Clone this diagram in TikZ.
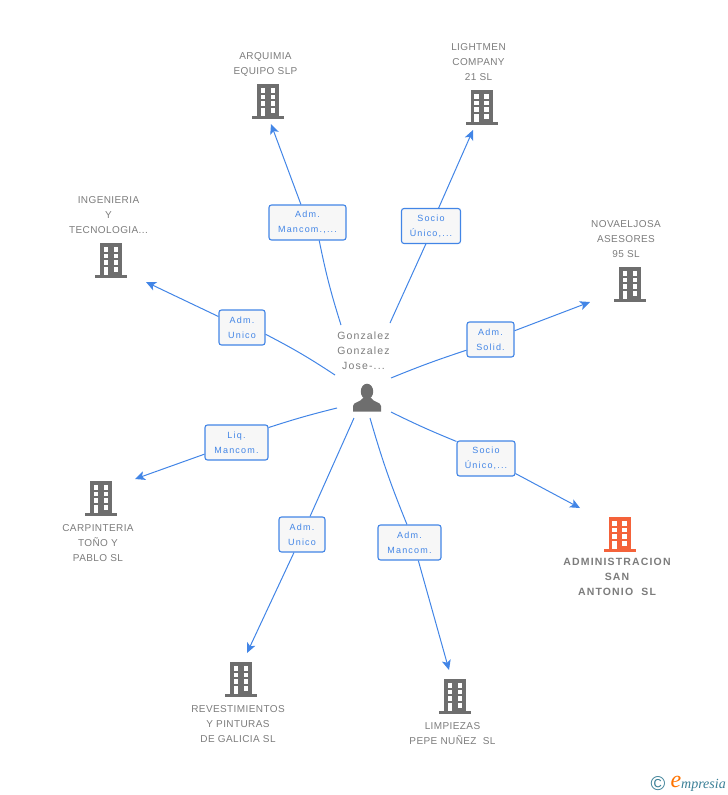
\documentclass[tikz,border=0pt]{standalone}
\usepackage{fontspec}
\setmainfont{Liberation Sans}
\newfontfamily\namefont[LetterSpace=4]{Liberation Sans}
\newfontfamily\widefont[LetterSpace=11]{Liberation Sans}
\newfontfamily\rolefont[LetterSpace=13]{Liberation Sans}
\newfontfamily\logofont{Liberation Serif}
\usetikzlibrary{arrows.meta,positioning}
\definecolor{linkblue}{HTML}{4285E6}
\definecolor{greyicon}{HTML}{6E6E6E}
\definecolor{greytext}{HTML}{7C7C7C}
\definecolor{iconred}{HTML}{F4623A}
\definecolor{logoteal}{HTML}{3A7F96}
\tikzset{
	company/.style={font=\namefont\fontsize{10}{15}\selectfont, text=greytext, align=center, inner sep=0pt},
	role/.style={draw=linkblue, fill=white!97!black, rounded corners=2.5pt, line width=1.1pt, minimum height=35pt, inner sep=0pt, align=center, text=linkblue, font=\rolefont\fontsize{9}{15}\selectfont, execute at begin node=\rule{0pt}{12.4pt}},
	link/.style={draw=linkblue, line width=1pt},
	linkend/.style={link, -{Stealth[length=10pt,width=9pt,inset=2.5pt]}},
	pics/building/.style={code={
		\fill[#1] (-11,-17) rectangle (11,15);
		\fill[#1] (-16,15) rectangle (16,17.5);
		\foreach \wx in {-7.3,2.7}
		\foreach \wy in {-13,-6.5,0.2}
		\fill[white] (\wx,\wy) rectangle ++(4.6,4.6);
		\fill[white] (-7.3,7) rectangle (-2.7,15);
		\fill[white] (2.7,7) rectangle (7.3,11.5);
	}},
}
\begin{document}
\begin{tikzpicture}[x=1pt, y=-1pt]
	\useasboundingbox (0,0) rectangle (728,795);
	% companies
	\foreach \bname/\bx/\by/\bcol in {arquimia/268/101/greyicon, lightmen/481.5/107/greyicon, novael/630/284/greyicon, ingenieria/111/260/greyicon, carpinteria/101/498/greyicon, revest/241/679/greyicon, limpiezas/455/696/greyicon, admin/619.5/534/iconred}
		\pic (\bname) at (\bx,\by) {building=\bcol};
	\node[company] (tarquimia) at (265.5,64) {ARQUIMIA\\EQUIPO SLP};
	\node[company] (tlightmen) at (478.5,62) {LIGHTMEN\\COMPANY\\21 SL};
	\node[company] (tnovael) at (626,239) {NOVAELJOSA\\ASESORES\\95 SL};
	\node[company] (tingenieria) at (108.5,215) {INGENIERIA\\Y\\TECNOLOGIA...};
	\node[company] (tcarpinteria) at (98,543) {CARPINTERIA\\TOÑO Y\\PABLO SL};
	\node[company] (trevest) at (238,724) {REVESTIMIENTOS\\Y PINTURAS\\DE GALICIA SL};
	\node[company] (tlimpiezas) at (452.5,734) {LIMPIEZAS\\PEPE NUÑEZ~ SL};
	\node[company, font=\widefont\bfseries\fontsize{10.5}{15}\selectfont] (tadmin) at (617,577) {ADMINISTRACION\\SAN\\ANTONIO~ SL};
	% person
	\node[company, font=\widefont\fontsize{10.5}{15}\selectfont] (tperson) at (363.5,351) {Gonzalez\\Gonzalez\\Jose-...};
	\fill[greyicon] (367,391.5) ellipse (6.2 and 7.8);
	\fill[greyicon] (353,411.5) -- (353,406) .. controls (353,402) and (361,402) .. (363,398) -- (371,398) .. controls (373,402) and (381,402) .. (381,406) -- (381,411.5) -- cycle;
	% links
	\foreach \lname/\lx/\ly/\lw/\ltxt/\sx/\sy/\ex/\ey/\lb/\la/\lt in {
		mancomup/307.5/222.5/77/{Adm.\\Mancom.,...}/341/325/271/124/3/-57/110,
		sociounico/431/226/59/{Socio\\Único,...}/390/323/473/130/0/-106/67,
		solid/490.5/339.5/47/{Adm.\\Solid.}/391/378/590/302/2/204/20,
		socioright/486/458.5/58/{Socio\\Único,...}/391/412/580/508/-2/150/-27,
		mancomdown/409.5/542.5/63/{Adm.\\Mancom.}/370/418/449/670/-3/98/-64,
		unicodown/302/534.5/46/{Adm.\\Unico}/354/418/247/653/0/66/-114,
		liq/236.5/442.5/63/{Liq.\\Mancom.}/337/408/135/479/-2/25/200,
		unicoleft/242/327.5/46/{Adm.\\Unico}/335/375/146/282/-3/-16/155}{
		\node[role, minimum width=\lw pt] (\lname) at (\lx,\ly) {\ltxt};
		\coordinate (\lname from) at (\sx,\sy);
		\coordinate (\lname to) at (\ex,\ey);
		\draw[link] (\lname from) to[bend left=\lb] (\lname.\la);
		\draw[linkend] (\lname.\lt) -- (\lname to);
	}
	% logo
	\node[text=logoteal, inner sep=0pt, font=\fontsize{20}{20}\selectfont] (logoc) at (658,784) {©};
	\node[text=orange!90!red, inner sep=0pt, font=\logofont\itshape\fontsize{24}{24}\selectfont] (logoe) at (676,782) {e};
	\node[text=logoteal, inner sep=0pt, anchor=west, font=\logofont\itshape\fontsize{14}{14}\selectfont] (logot) at (681,785) {mpresia};
\end{tikzpicture}
\end{document}
